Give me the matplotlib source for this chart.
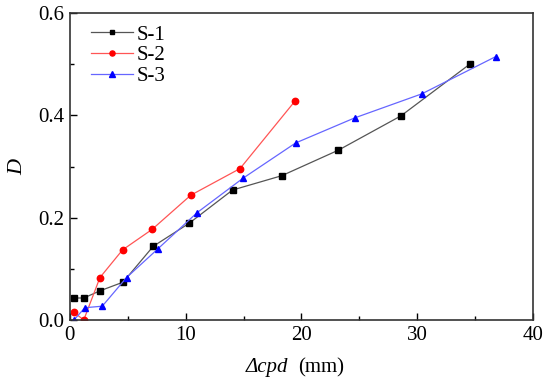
import numpy as np
import matplotlib
matplotlib.use("Agg")
import matplotlib.pyplot as plt
from matplotlib.ticker import MultipleLocator

plt.rcParams["font.family"] = ["Liberation Serif", "DejaVu Serif"]

# S-1
s1_x = [0.35, 1.2, 2.6, 4.6, 7.2, 10.3, 14.05, 18.3, 23.2, 28.6, 34.6]
s1_y = [0.043, 0.043, 0.057, 0.074, 0.144, 0.189, 0.254, 0.282, 0.332, 0.399, 0.501]
# S-2
s2_x = [0.35, 1.2, 2.6, 4.55, 7.1, 10.45, 14.7, 19.45]
s2_y = [0.015, 0.0, 0.083, 0.137, 0.177, 0.244, 0.296, 0.428]
# S-3
s3_x = [0.35, 1.3, 2.8, 4.9, 7.6, 11.0, 14.95, 19.5, 24.6, 30.4, 36.8]
s3_y = [0.0, 0.024, 0.027, 0.083, 0.139, 0.21, 0.277, 0.346, 0.395, 0.442, 0.515]

fig = plt.figure(figsize=(5.5, 3.83), dpi=100)
ax = fig.add_axes([0.127, 0.1645, 0.842, 0.8015])

ax.plot(s1_x, s1_y, color="#555555", lw=0.9, marker="s", ms=3.8,
        mfc="black", mec="black", label="S-1")
ax.plot(s2_x, s2_y, color="#ff5555", lw=0.9, marker="o", ms=4.6,
        mfc="red", mec="red", label="S-2")
ax.plot(s3_x, s3_y, color="#6666ff", lw=0.9, marker="^", ms=5.0,
        mfc="blue", mec="blue", label="S-3")

ax.set_xlim(0, 40)
ax.set_ylim(0, 0.6)
ax.xaxis.set_major_locator(MultipleLocator(10))
ax.xaxis.set_minor_locator(MultipleLocator(5))
ax.yaxis.set_major_locator(MultipleLocator(0.2))
ax.yaxis.set_minor_locator(MultipleLocator(0.1))
ax.yaxis.set_major_formatter(plt.FuncFormatter(lambda v, p: f"{v:.1f}"))
ax.tick_params(which="both", direction="in", top=False, right=False, labelsize=15)
ax.tick_params(which="major", length=5, width=1, pad=4)
ax.tick_params(which="minor", length=3, width=1)
for s in ax.spines.values():
    s.set_linewidth(1.2)
    s.set_color("#333333")

# x label: italic symbol part + upright unit
ax.text(0.472, -0.155, "Δcpd", transform=ax.transAxes, ha="right", va="center",
        fontsize=15, fontstyle="italic")
ax.text(0.492, -0.155, "(mm)", transform=ax.transAxes, ha="left", va="center",
        fontsize=15)
ax.set_ylabel("D", fontsize=16, fontstyle="italic", labelpad=8)

ax.legend(loc="upper left", bbox_to_anchor=(0.01, 1.015), frameon=False,
          fontsize=15, handlelength=2.0, handletextpad=0.2, labelspacing=0.05,
          borderaxespad=0.5, borderpad=0.3, markerscale=0.8)

fig.savefig("out.png", dpi=100)
